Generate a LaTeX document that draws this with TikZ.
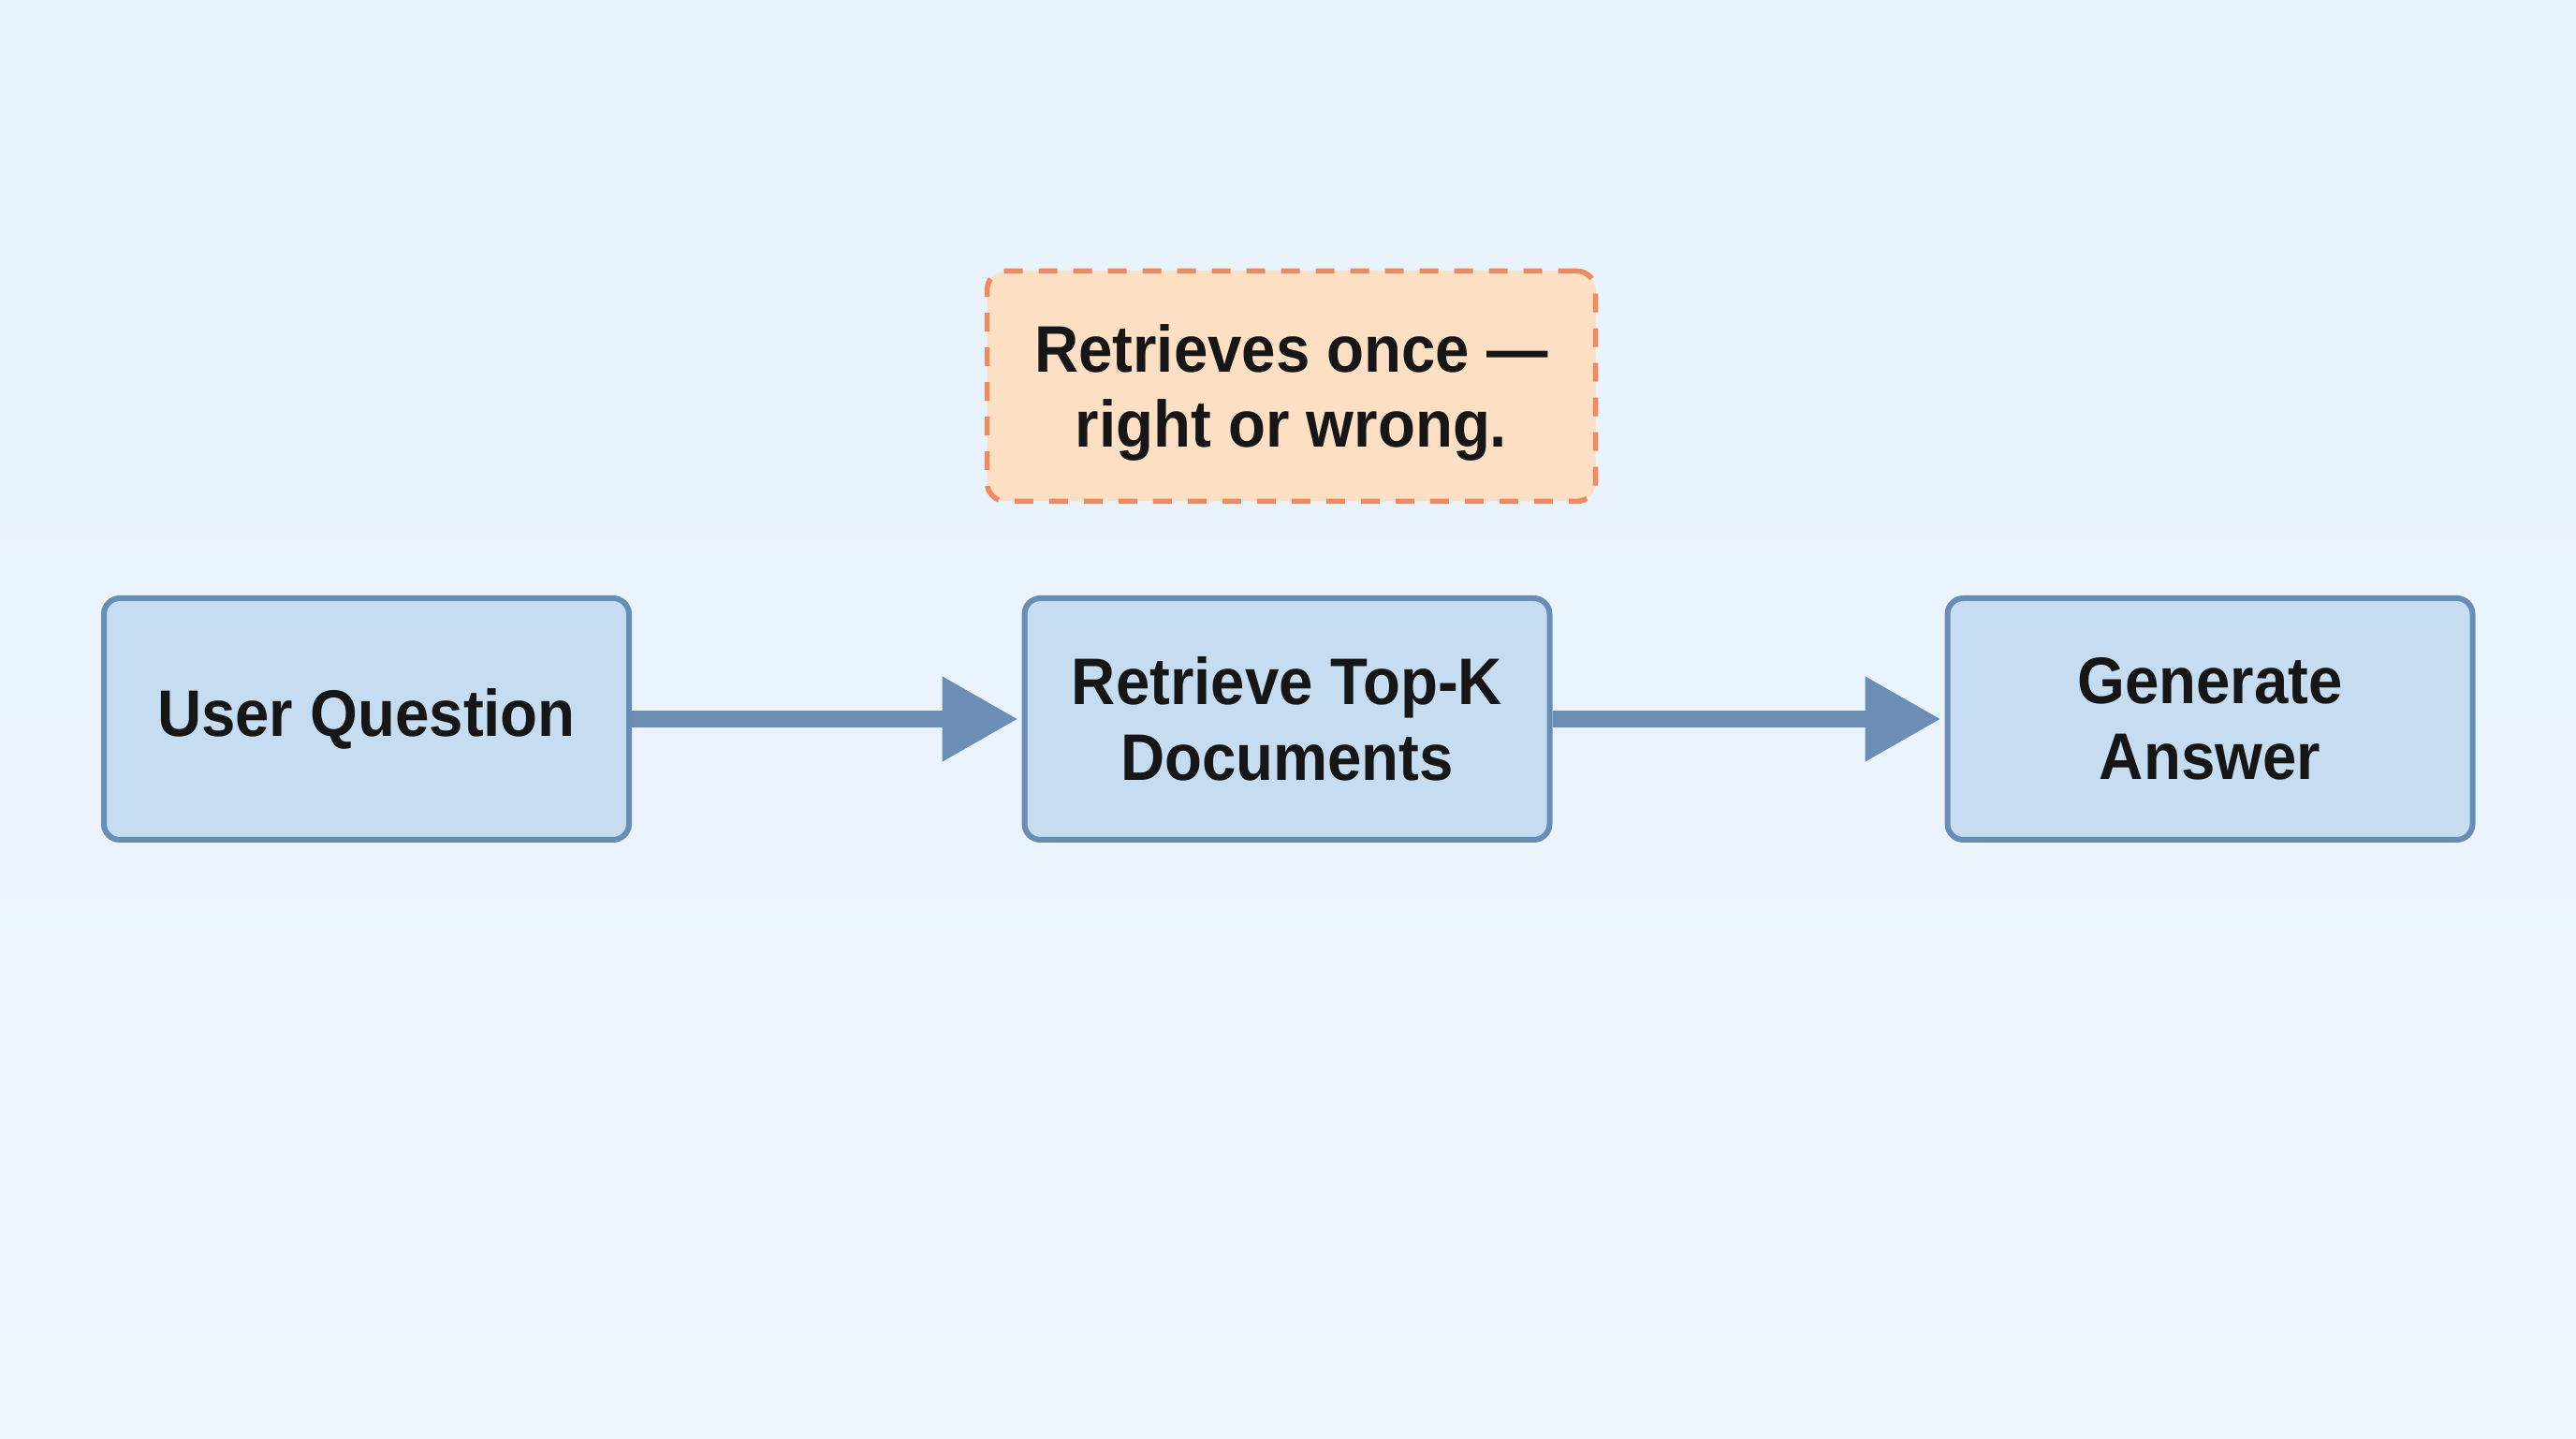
\documentclass[tikz,border=0pt]{standalone}
\usepackage{fontspec}
\setmainfont{Liberation Sans}[FakeStretch=0.93]
\usetikzlibrary{arrows.meta}
\definecolor{bgtop}{HTML}{E7F2FC}
\definecolor{bgbot}{HTML}{EEF6FE}
\definecolor{boxfill}{HTML}{C5DCF1}
\definecolor{boxline}{HTML}{6A8DB6}
\definecolor{arrowcol}{HTML}{6C8DB5}
\definecolor{notefill}{HTML}{FDDFC4}
\definecolor{noteline}{HTML}{EE8A5F}
\definecolor{txt}{HTML}{161616}
\tikzset{
  labeltext/.style={align=center, text=txt, font=\fontsize{20}{23}\selectfont\bfseries},
  procbox/.style={labeltext, draw=boxline, fill=boxfill, line width=0.06cm, rounded corners=0.17cm,
    minimum width=5.61cm, minimum height=2.58cm},
  notebox/.style={draw=noteline, fill=notefill, line width=0.055cm, rounded corners=0.2cm,
    dash pattern=on 0.2cm off 0.17cm, minimum width=6.5cm, minimum height=2.46cm},
  flow/.style={draw=arrowcol, line width=0.18cm,
    -{Triangle[length=0.81cm, width=0.86cm]}, shorten >=0.04cm}
}
\begin{document}
\begin{tikzpicture}
\shade[top color=bgtop, bottom color=bgbot] (0,0) rectangle (27.52,15.36);
\useasboundingbox (0,0) rectangle (27.52,15.36);
\node[procbox] (q) at (3.915,7.68) {User Question};
\node[procbox] (r) at (13.75,7.68) {Retrieve Top-K\\Documents};
\node[procbox] (g) at (23.61,7.68) {Generate\\Answer};
\node[notebox] (n) at (13.795,11.235) {};
\node[labeltext] (nt) at ([yshift=-0.07cm]n.center) {Retrieves once —\\right or wrong.};
\draw[flow] (q.east) -- (r.west);
\draw[flow] (r.east) -- (g.west);
\end{tikzpicture}
\end{document}
